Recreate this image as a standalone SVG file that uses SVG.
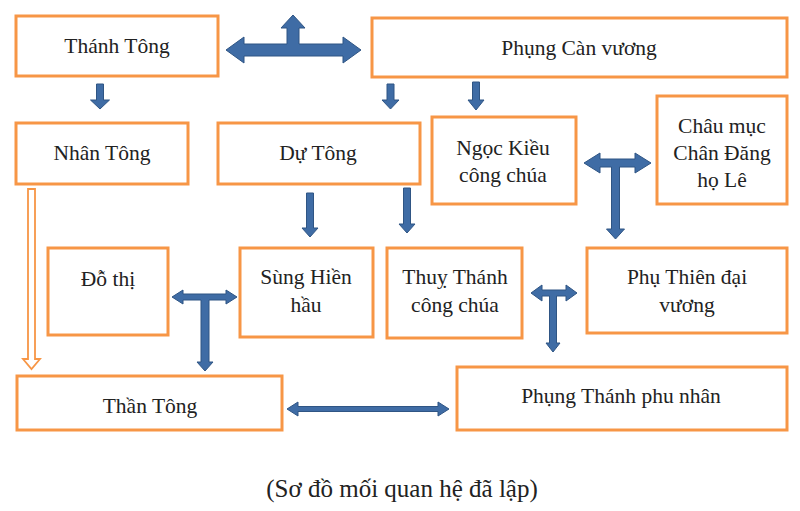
<svg xmlns="http://www.w3.org/2000/svg" width="800" height="511" viewBox="0 0 800 511">
<style>
.box{fill:#fff;stroke:#f79646;stroke-width:3}
.t{font-family:"Liberation Serif","Times New Roman","DejaVu Serif",serif;font-size:21.5px;fill:#222;text-anchor:middle}
.cap{font-size:25px}
.blue{fill:#3f6ca5;stroke:#2f5584;stroke-width:1}
.org{fill:#fff;stroke:#f79646;stroke-width:1.8}
</style>
<rect width="800" height="511" fill="#fff"/>
<g id="connectors">
<path class="blue" d="M226,50 L244,37 L244,44 L287,44 L287,28 L281,28 L293,15 L305,28 L299,28 L299,44 L343,44 L343,37 L361,50 L343,63 L343,56 L244,56 L244,63 Z"/>
<path class="blue" d="M96.5,84 H103.5 V100 H109.5 L100,109 L90.5,100 H96.5 Z"/>
<path class="blue" d="M387,84 H394 V100 H399 L390.5,109 L382,100 H387 Z"/>
<path class="blue" d="M472.5,82 H479.5 V100 H484 L476,110 L468,100 H472.5 Z"/>
<path class="blue" d="M306.5,193 H313.5 V228 H318 L310,237 L302,228 H306.5 Z"/>
<path class="blue" d="M403.5,188 H410.5 V224 H415 L407,233 L399,224 H403.5 Z"/>
<path class="blue" d="M584,163 L600,153 L600,159 L635,159 L635,153 L651,163 L635,173 L635,167 L619.5,167 L619.5,229 L624.5,229 L615.5,239 L606.5,229 L611.5,229 L611.5,167 L600,167 L600,173 Z"/>
<path class="blue" d="M172,297 L183,290 L183,294 L226,294 L226,290 L237,297 L226,304 L226,300 L209,300 L209,362 L213,362 L205,371 L197,362 L201,362 L201,300 L183,300 L183,304 Z"/>
<path class="blue" d="M531,293 L542,285 L542,290 L566,290 L566,285 L577,293 L566,301 L566,296 L556.5,296 L556.5,343 L560,343 L553,352 L546,343 L549.5,343 L549.5,296 L542,296 L542,301 Z"/>
<path class="blue" d="M287,409 L298,402 L298,406.5 L438,406.5 L438,402 L449,409 L438,416 L438,411.5 L298,411.5 L298,416 Z"/>
<path class="org" d="M28,189 H35 V359 H40 L31.5,369 L23,359 H28 Z"/>
</g>
<g id="thanh-tong"><rect class="box" x="16" y="16" width="202" height="60"/><text class="t" x="117" y="53">Thánh Tông</text></g>
<g id="phung-can-vuong"><rect class="box" x="372" y="18" width="415" height="59"/><text class="t" x="579" y="55">Phụng Càn vương</text></g>
<g id="nhan-tong"><rect class="box" x="16" y="123" width="172" height="61"/><text class="t" x="102" y="160">Nhân Tông</text></g>
<g id="du-tong"><rect class="box" x="218" y="123" width="202" height="61"/><text class="t" x="318" y="160">Dự Tông</text></g>
<g id="ngoc-kieu"><rect class="box" x="432" y="117" width="144" height="87"/><text class="t" x="503" y="155">Ngọc Kiều</text><text class="t" x="503" y="182">công chúa</text></g>
<g id="chau-muc"><rect class="box" x="657" y="96" width="130" height="108"/><text class="t" x="722" y="133">Châu mục</text><text class="t" x="722" y="160">Chân Đăng</text><text class="t" x="722" y="187">họ Lê</text></g>
<g id="do-thi"><rect class="box" x="48" y="248" width="120" height="87"/><text class="t" x="108" y="286">Đỗ thị</text></g>
<g id="sung-hien-hau"><rect class="box" x="240" y="248" width="133" height="89"/><text class="t" x="306" y="284">Sùng Hiền</text><text class="t" x="306" y="312">hầu</text></g>
<g id="thuy-thanh"><rect class="box" x="387" y="248" width="135" height="90"/><text class="t" x="455" y="284">Thuỵ Thánh</text><text class="t" x="455" y="312">công chúa</text></g>
<g id="phu-thien"><rect class="box" x="587" y="248" width="200" height="85"/><text class="t" x="687" y="284">Phụ Thiên đại</text><text class="t" x="687" y="312">vương</text></g>
<g id="than-tong"><rect class="box" x="17" y="376" width="265" height="54"/><text class="t" x="150" y="413">Thần Tông</text></g>
<g id="phung-thanh"><rect class="box" x="457" y="367" width="330" height="63"/><text class="t" x="621" y="403">Phụng Thánh phu nhân</text></g>
<text class="t cap" x="402" y="497">(Sơ đồ mối quan hệ đã lập)</text>
</svg>
